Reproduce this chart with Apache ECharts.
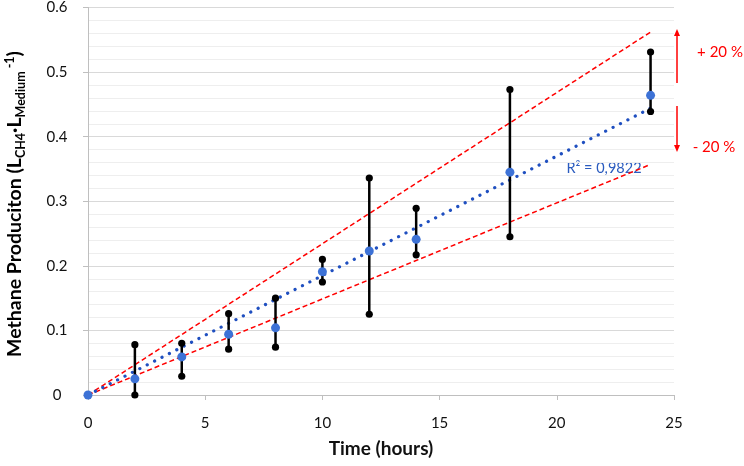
<!DOCTYPE html>
<html>
<head>
<meta charset="utf-8">
<script src="https://cdn.jsdelivr.net/npm/echarts@6/dist/echarts.min.js"></script>
<style>html,body{margin:0;padding:0;background:#fff}#c{width:744px;height:466px}</style>
</head>
<body>
<div id="c"></div>
<script>
// Data
const hours     = [0, 2, 4, 6, 8, 10, 12, 14, 18, 24];
const meanProd  = [0, 0.025, 0.059, 0.094, 0.104, 0.191, 0.223, 0.241, 0.345, 0.464];
const lowProd   = [null, 0, 0.029, 0.071, 0.074, 0.175, 0.125, 0.217, 0.245, 0.439];
const highProd  = [null, 0.078, 0.080, 0.126, 0.150, 0.210, 0.336, 0.289, 0.473, 0.531];
const trendX    = [0, 24];
const trendY    = [0, 0.444];
const upperY    = [0, 0.562];
const lowerY    = [0, 0.357];
const yTicks    = ['0', '0.1', '0.2', '0.3', '0.4', '0.5', '0.6'];
const xTicks    = ['0', '5', '10', '15', '20', '25'];
const r2Text    = 'R² = 0,9822';

const FONT = 'Lato, "Open Sans", sans-serif';
const chart = echarts.init(document.getElementById('c'), null, {renderer: 'canvas'});

const meanData = hours.map((h, i) => [h, meanProd[i]]);
const errData = [];
hours.forEach((h, i) => { if (lowProd[i] !== null) errData.push([h, lowProd[i], highProd[i]]); });
const pair = (ys) => trendX.map((x, i) => [x, ys[i]]);

chart.setOption({
  animation: false,
  backgroundColor: '#fff',
  grid: {left: 88, right: 70, top: 7, bottom: 71, containLabel: false},
  xAxis: {
    type: 'value', min: 0, max: 25, interval: 5,
    name: 'Time (hours)', nameLocation: 'middle', nameGap: 44,
    nameTextStyle: {fontFamily: FONT, fontWeight: 'bold', fontSize: 19, color: '#111'},
    axisLine: {show: true, lineStyle: {color: '#bfbfbf', width: 1}},
    axisTick: {show: true, length: 5, lineStyle: {color: '#bfbfbf'}},
    axisLabel: {margin: 21, fontFamily: FONT, fontSize: 15, color: '#111',
      formatter: (v) => xTicks[Math.round(v / 5)]},
    splitLine: {show: false}
  },
  yAxis: {
    type: 'value', min: 0, max: 0.6, interval: 0.1,
    axisLine: {show: true, lineStyle: {color: '#bfbfbf', width: 1}},
    axisTick: {show: true, length: 5, lineStyle: {color: '#bfbfbf'}},
    axisLabel: {margin: 31, align: 'center', fontFamily: FONT, fontSize: 15, color: '#111',
      formatter: (v) => yTicks[Math.round(v * 10)]},
    splitLine: {show: true, lineStyle: {color: '#d9d9d9', width: 1}},
    minorTick: {show: false, splitNumber: 5},
    minorSplitLine: {show: true, lineStyle: {color: '#eeeeee', width: 1}}
  },
  series: [
    {
      type: 'line', data: pair(upperY), showSymbol: false, symbol: 'none', z: 3,
      lineStyle: {color: '#ff0000', width: 1.5, type: [5, 3]}
    },
    {
      type: 'line', data: pair(lowerY), showSymbol: false, symbol: 'none', z: 3,
      lineStyle: {color: '#ff0000', width: 1.5, type: [5, 3]}
    },
    {
      type: 'line', data: pair(trendY), showSymbol: false, symbol: 'none', z: 4,
      lineStyle: {color: '#1f4fc0', width: 3.2, type: [0.1, 8.2], cap: 'round'}
    },
    {
      type: 'custom', z: 5, data: errData,
      renderItem: function (params, api) {
        const x = api.value(0), lo = api.value(1), hi = api.value(2);
        const p1 = api.coord([x, lo]), p2 = api.coord([x, hi]);
        return {
          type: 'group',
          children: [
            {type: 'line', shape: {x1: p1[0], y1: p1[1], x2: p2[0], y2: p2[1]},
              style: {stroke: '#000', lineWidth: 2.5}},
            {type: 'circle', shape: {cx: p1[0], cy: p1[1], r: 3.6}, style: {fill: '#000'}},
            {type: 'circle', shape: {cx: p2[0], cy: p2[1], r: 3.6}, style: {fill: '#000'}}
          ]
        };
      }
    },
    {
      type: 'scatter', data: meanData, symbol: 'circle', symbolSize: 9, z: 6,
      itemStyle: {color: '#3d72d6', opacity: 1}
    }
  ],
  graphic: [
    {
      type: 'text', x: 15, y: 204, rotation: Math.PI / 2,
      style: {
        text: '{a|Methane Produciton (L}{s|CH4}{a|·L}{s|Medium}{p| -1}{a|)}',
        align: 'center', verticalAlign: 'middle',
        rich: {
          a: {fontFamily: FONT, fontWeight: 'bold', fontSize: 19.5, color: '#111', lineHeight: 24},
          s: {fontFamily: FONT, fontWeight: 'bold', fontSize: 12.5, color: '#111', lineHeight: 13, verticalAlign: 'bottom'},
          p: {fontFamily: FONT, fontWeight: 'bold', fontSize: 12.5, color: '#111', lineHeight: 13, verticalAlign: 'top'}
        }
      }
    },
    {type: 'text', x: 604, y: 168, style: {text: r2Text, fontFamily: FONT, fontSize: 14.5, fill: '#2a5bbf', align: 'center', verticalAlign: 'middle'}},
    {type: 'line', shape: {x1: 677, y1: 33, x2: 677, y2: 83}, style: {stroke: '#ff0000', lineWidth: 1.5}},
    {type: 'polygon', shape: {points: [[677, 29], [674, 36], [680, 36]]}, style: {fill: '#ff0000'}},
    {type: 'line', shape: {x1: 677, y1: 106, x2: 677, y2: 148}, style: {stroke: '#ff0000', lineWidth: 1.5}},
    {type: 'polygon', shape: {points: [[677, 152], [674, 145], [680, 145]]}, style: {fill: '#ff0000'}},
    {type: 'text', x: 720, y: 52, style: {text: '+ 20 %', fontFamily: FONT, fontSize: 15, fill: '#ff0000', align: 'center', verticalAlign: 'middle'}},
    {type: 'text', x: 714, y: 147, style: {text: '- 20 %', fontFamily: FONT, fontSize: 15, fill: '#ff0000', align: 'center', verticalAlign: 'middle'}}
  ]
});
</script>
</body>
</html>
